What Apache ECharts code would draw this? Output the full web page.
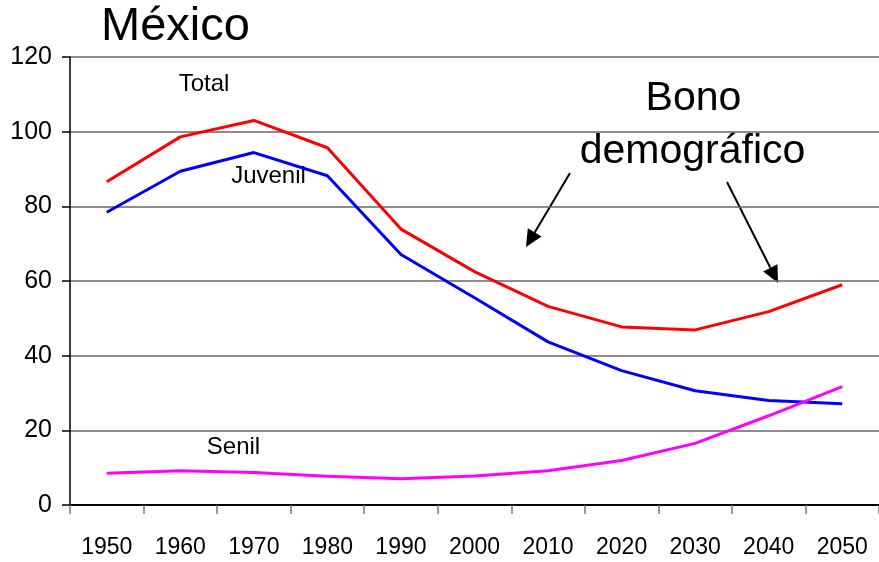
<!DOCTYPE html>
<html>
<head>
<meta charset="utf-8">
<script src="https://cdn.jsdelivr.net/npm/echarts@6/dist/echarts.min.js"></script>
<style>
html,body{margin:0;padding:0;background:#fff;}
#chart{width:879px;height:562px;}
</style>
</head>
<body>
<div id="chart"></div>
<script>
const years = ['1950','1960','1970','1980','1990','2000','2010','2020','2030','2040','2050'];
const total = [86.6, 98.6, 103.0, 95.7, 73.9, 62.5, 53.2, 47.7, 46.9, 51.8, 59.0];
const juvenil = [78.4, 89.4, 94.4, 88.2, 67.1, 55.5, 43.7, 36.0, 30.6, 28.0, 27.1];
const senil = [8.5, 9.2, 8.7, 7.7, 7.0, 7.8, 9.2, 11.9, 16.5, 23.9, 31.7];
const yTicks = {min: 0, max: 120, interval: 20};

const FONT = 'Liberation Sans, Arial, sans-serif';

function arrow(x1, y1, x2, y2) {
  const dx = x2 - x1, dy = y2 - y1;
  const len = Math.sqrt(dx * dx + dy * dy);
  const ux = dx / len, uy = dy / len;
  const hl = 17, hw = 8;
  const bx = x2 - ux * hl, by = y2 - uy * hl;
  return [
    {type: 'line', shape: {x1: x1, y1: y1, x2: bx, y2: by}, style: {stroke: '#000', lineWidth: 2}},
    {type: 'polygon', shape: {points: [[x2, y2], [bx - uy * hw, by + ux * hw], [bx + uy * hw, by - ux * hw]]}, style: {fill: '#000'}}
  ];
}

function label(text, x, y, size, align) {
  return {type: 'text', x: x, y: y, style: {text: text, font: size + 'px ' + FONT, fill: '#000', align: align || 'center', verticalAlign: 'middle'}};
}

const chart = echarts.init(document.getElementById('chart'));
chart.setOption({
  animation: false,
  backgroundColor: '#fff',
  grid: {left: 70, right: 0, top: 57, bottom: 57, containLabel: false},
  xAxis: {
    type: 'category',
    data: years,
    boundaryGap: true,
    axisLine: {lineStyle: {color: '#000', width: 2}},
    axisTick: {show: true, interval: 0, length: 9, lineStyle: {color: '#777', width: 1.5}},
    axisLabel: {interval: 0, hideOverlap: false, color: '#000', fontSize: 23, fontFamily: FONT, margin: 31}
  },
  yAxis: {
    type: 'value',
    min: yTicks.min, max: yTicks.max, interval: yTicks.interval,
    axisLine: {show: true, lineStyle: {color: '#000', width: 1.5}},
    axisTick: {show: true, length: 8, lineStyle: {color: '#000', width: 1.5}},
    axisLabel: {color: '#000', fontSize: 25, fontFamily: FONT, margin: 18},
    splitLine: {show: true, lineStyle: {color: '#666', width: 1.5}}
  },
  series: [
    {name: 'Total', type: 'line', data: total, showSymbol: false, symbol: 'none', lineStyle: {color: '#ff0000', width: 3}, itemStyle: {color: '#ff0000'}},
    {name: 'Juvenil', type: 'line', data: juvenil, showSymbol: false, symbol: 'none', lineStyle: {color: '#0000ff', width: 3}, itemStyle: {color: '#0000ff'}},
    {name: 'Senil', type: 'line', data: senil, showSymbol: false, symbol: 'none', lineStyle: {color: '#ff00ff', width: 3}, itemStyle: {color: '#ff00ff'}}
  ],
  graphic: [
    label('México', 175.5, 27, 47),
    label('Total', 204, 84, 24),
    label('Juvenil', 268.5, 176.5, 24),
    label('Senil', 233.5, 447, 24),
    label('Bono', 693.5, 99, 41),
    label('demográfico', 692.5, 152, 41)
  ].concat(arrow(570, 173, 526, 247)).concat(arrow(727, 182, 778, 283))
});
</script>
</body>
</html>
